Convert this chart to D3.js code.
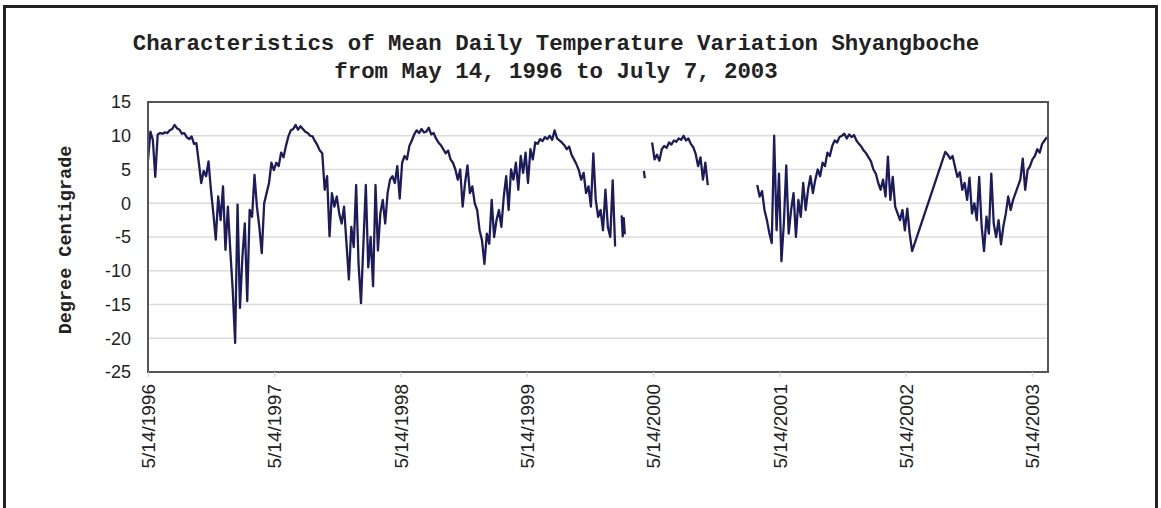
<!DOCTYPE html>
<html>
<head>
<meta charset="utf-8">
<script src="https://cdn.jsdelivr.net/npm/d3@7"></script>
<style>
  body { margin: 0; background: #fff; }
  svg { display: block; }
</style>
</head>
<body>
<div id="chart-area"></div>
<script>
// title and axis text
var titleLines = ["Characteristics of Mean Daily Temperature Variation Shyangboche",
                  "from May 14, 1996 to July 7, 2003"];
var yLabel = "Degree Centigrade";
var yTicks = [15, 10, 5, 0, -5, -10, -15, -20, -25];
var xTickLabels = ["5/14/1996", "5/14/1997", "5/14/1998", "5/14/1999",
                   "5/14/2000", "5/14/2001", "5/14/2002", "5/14/2003"];
var xStart = "5/14/1996", xEnd = "6/30/2003";

// mean daily temperature (weekly unless noted)
var temps1996 = [6.4, 10.6, 9.4, 3.9, 10.2, 10.4, 10.3, 10.5, 10.4, 10.8,
  11.0, 11.6, 11.1, 10.9, 10.3, 10.4, 9.8, 9.5, 9.9, 8.8,
  8.9, 6.0, 3.0, 4.8, 4.0, 6.2, 2.0, -1.5, -5.4, 1.0,
  -2.5, 2.5, -6.9, -0.5, -7.0, -12.8, -20.7, -0.2, -15.5, -8.0,
  -3.0, -14.5, -1.0, -2.0, 4.2, -0.5, -3.5, -7.4, 0.0, 1.5,
  3.0, 6.0, 4.9, 6.0, 5.5, 7.5, 6.8, 8.5, 9.9, 10.8,
  11.0, 11.6, 10.9, 11.4, 11.0, 10.6, 10.4, 10.0, 9.9, 9.2,
  8.6, 7.8, 7.4, 2.0, 4.0, -4.9, 1.5, -0.5, 1.0, -1.5,
  -3.0, -0.5, -5.9, -11.3, -3.5, -6.5, 2.7, -9.0, -14.8, -6.0,
  2.7, -9.5, -5.0, -12.3, 2.7, -7.0, -1.5, 0.5, -3.0, 1.5,
  3.5, 4.0, 3.0, 5.5, 0.7, 6.0, 7.0, 6.5, 8.5, 9.3,
  10.2, 10.8, 10.4, 11.0, 10.5, 10.6, 11.2, 10.2, 10.4, 9.6,
  9.0, 8.6, 8.0, 7.4, 7.8, 6.5, 6.0, 5.0, 3.5, 5.0,
  -0.5, 3.0, 5.6, 1.5, 2.5, 0.0, -1.0, -4.0, -5.5, -9.0,
  -4.5, -6.0, 0.5, -5.0, -2.5, -1.0, -3.5, 1.0, 4.0, -1.0,
  5.0, 3.5, 6.0, 2.0, 7.0, 4.5, 7.5, 3.0, 8.0, 6.5,
  9.0, 8.8, 9.5, 9.2, 9.8, 9.5, 10.0, 9.4, 10.8, 9.6,
  9.3, 9.0, 8.6, 8.0, 8.4, 7.2, 6.5, 5.8, 4.9, 3.5,
  4.5, 1.5, 2.5, -0.5, 7.4, 0.5, -2.0, -1.0, -4.0, 2.0,
  -3.5, -5.0, 3.4, -6.4];
var temps2000a = [-1.8, -4.9, -2.2, -4.6];   // every 3 days
var temps2000b = [4.8, 3.7];                 // every 3 days
var temps2000c = [9.0, 6.5, 7.2, 6.3, 8.0, 8.5, 8.2, 9.0, 8.7, 9.3,
  9.1, 9.6, 9.4, 10.0, 9.3, 9.6, 8.8, 8.3, 7.3, 5.5,
  6.8, 3.5, 6.0, 2.7];
var temps2001 = [2.7, 1.0, 1.8, -1.0, -2.5, -4.4, -5.9, 10.0, -4.0, 4.4,
  -8.6, -3.0, 5.6, -4.5, -1.0, 1.5, -5.0, 0.5, -2.0, 3.0,
  -1.0, 2.0, 4.0, 1.5, 3.5, 5.0, 4.0, 6.0, 5.5, 7.5,
  7.0, 8.5, 9.3, 9.0, 9.8, 10.0, 10.3, 9.6, 10.2, 9.8,
  10.1, 9.3, 8.8, 8.4, 7.8, 7.4, 6.8, 6.2, 5.0, 4.4,
  3.0, 2.0, 3.5, 1.0, 6.9, 0.5, 3.9, -0.5, -1.5, -2.5,
  -1.0, -4.0, -0.8, -4.5, -7.1];
var temps2002 = [7.6, 7.2, 6.6, 7.0, 5.4, 3.9, 4.6, 2.0, 3.0, 0.5,
  3.8, -1.5, 0.0, -2.5, 3.9, -3.4, -7.1, -2.0, -4.5, 4.4,
  -3.0, -5.0, -2.5, -6.1, -3.4, -1.5, 1.0, -1.0, 0.5, 1.5,
  2.5, 3.5, 6.6, 2.0, 4.9, 5.5, 6.5, 7.0, 8.0, 7.5,
  8.8, 9.3, 9.8];

var parse = d3.timeParse("%m/%d/%Y");
function run(start, step, values) {
    var d0 = parse(start);
    return values.map((v, i) => ({date: d3.timeDay.offset(d0, i * step), value: v}));
}
// each entry is one unbroken line (2001 and 2002 are joined, no rows between them)
var lines = [
    run("5/14/1996", 7, temps1996),
    run("2/13/2000", 3, temps2000a),
    run("4/17/2000", 3, temps2000b),
    run("5/11/2000", 7, temps2000c),
    run("3/11/2001", 7, temps2001).concat(run("9/6/2002", 7, temps2002))
];

var width = 1161, height = 508;
var plot = {left: 148, top: 102, right: 1048, bottom: 372};

var svg = d3.select("#chart-area").append("svg")
    .attr("width", width)
    .attr("height", height);

// outer frame
svg.append("rect")
    .attr("x", 4.5).attr("y", 6.5)
    .attr("width", 1152).attr("height", 520)
    .attr("fill", "none")
    .attr("stroke", "#222")
    .attr("stroke-width", 3);

svg.selectAll(".title").data(titleLines).enter()
    .append("text")
        .attr("class", "title")
        .attr("x", 556)
        .attr("y", (d, i) => 50 + i * 28)
        .attr("text-anchor", "middle")
        .style("font-family", "'Liberation Mono', 'Courier New', monospace")
        .style("font-weight", "bold")
        .style("font-size", "22.4px")
        .style("fill", "#222")
        .text(d => d);

var x = d3.scaleTime()
    .domain([parse(xStart), parse(xEnd)])
    .range([plot.left, plot.right]);

var y = d3.scaleLinear()
    .domain([-25, 15])
    .range([plot.bottom, plot.top]);

// gridlines
svg.append("g").selectAll("line").data(yTicks.slice(1, -1)).enter()
    .append("line")
        .attr("x1", plot.left).attr("x2", plot.right)
        .attr("y1", d => y(d)).attr("y2", d => y(d))
        .attr("stroke", "#dcdcdc")
        .attr("stroke-width", 1.5);

// temperature lines
svg.append("clipPath").attr("id", "clip")
    .append("rect")
        .attr("x", plot.left).attr("y", plot.top)
        .attr("width", plot.right - plot.left).attr("height", plot.bottom - plot.top);

var line = d3.line()
    .x(d => x(d.date))
    .y(d => y(d.value));

svg.append("g").attr("clip-path", "url(#clip)")
    .selectAll("path").data(lines).enter()
    .append("path")
        .attr("d", line)
        .attr("fill", "none")
        .attr("stroke", "#1c1c5c")
        .attr("stroke-width", 2.3)
        .attr("stroke-linejoin", "round");

// plot border
svg.append("rect")
    .attr("x", plot.left).attr("y", plot.top)
    .attr("width", plot.right - plot.left).attr("height", plot.bottom - plot.top)
    .attr("fill", "none")
    .attr("stroke", "#555")
    .attr("stroke-width", 2);

// y axis
var yAxis = svg.append("g")
    .attr("transform", "translate(" + plot.left + ",0)")
    .call(d3.axisLeft(y).tickValues(yTicks).tickFormat(d => String(d)).tickSize(0).tickPadding(17));
yAxis.select(".domain").remove();
yAxis.selectAll("text")
    .style("font-family", "'Liberation Sans', Arial, sans-serif")
    .style("font-size", "18px")
    .style("fill", "#222");

// x axis
var xAxis = svg.append("g")
    .attr("transform", "translate(0," + plot.bottom + ")")
    .call(d3.axisBottom(x)
        .tickValues(xTickLabels.map(parse))
        .tickFormat(d3.timeFormat("%-m/%-d/%Y"))
        .tickSize(5));
xAxis.select(".domain").remove();
xAxis.selectAll(".tick line").attr("stroke", "#ccc");
xAxis.selectAll("text")
    .attr("transform", "rotate(-90)")
    .attr("text-anchor", "end")
    .attr("x", -12)
    .attr("y", 0)
    .attr("dy", "0.35em")
    .style("font-family", "'Liberation Sans', Arial, sans-serif")
    .style("font-size", "19px")
    .style("fill", "#222");

// y axis title
svg.append("text")
    .attr("transform", "translate(71,240) rotate(-90)")
    .attr("text-anchor", "middle")
    .style("font-family", "'Liberation Mono', 'Courier New', monospace")
    .style("font-weight", "bold")
    .style("font-size", "18.5px")
    .style("fill", "#222")
    .text(yLabel);
</script>
</body>
</html>
